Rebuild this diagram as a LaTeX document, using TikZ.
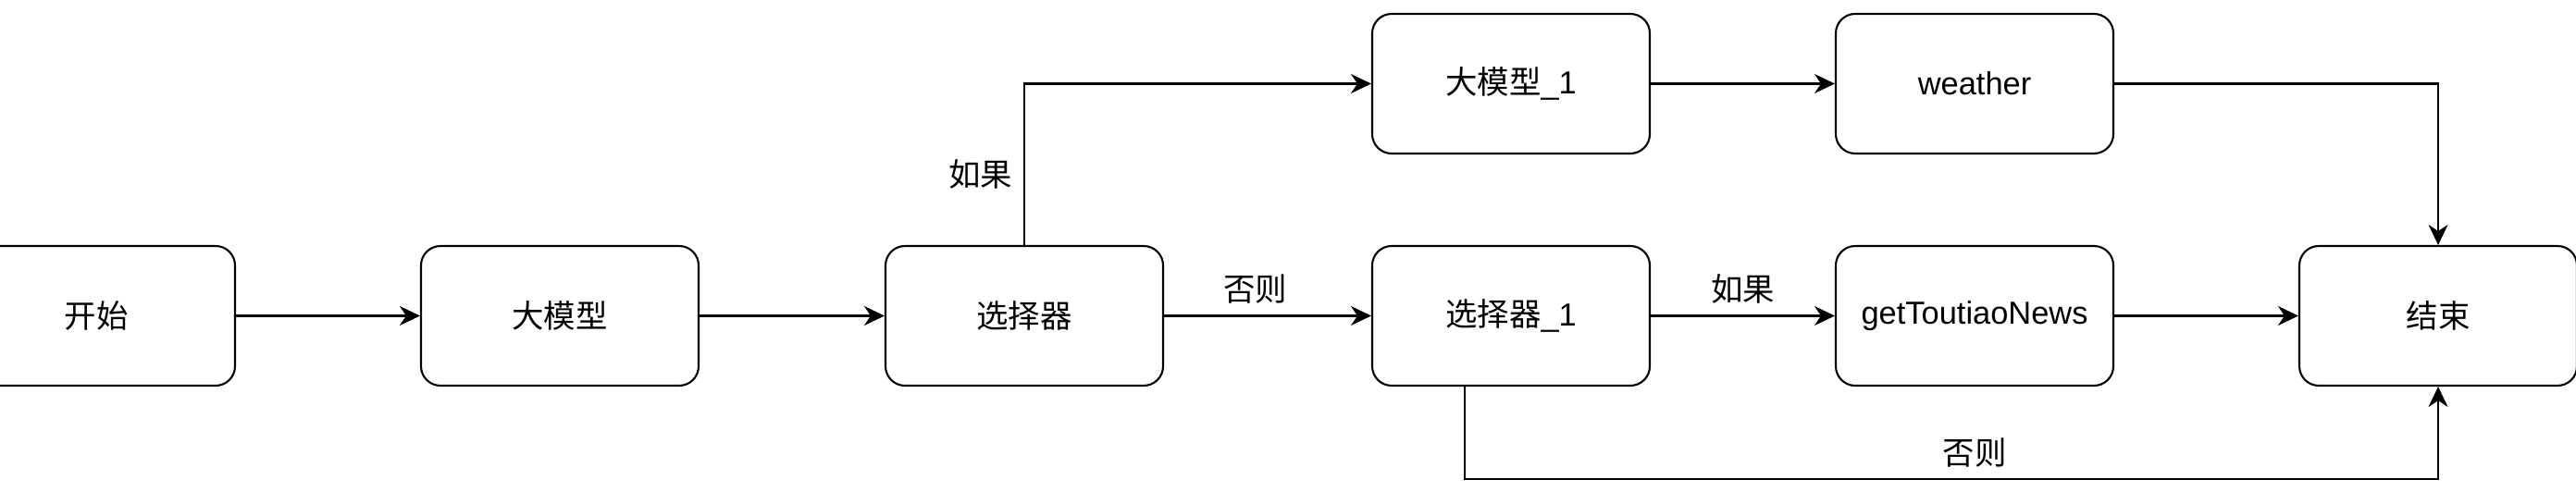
\documentclass[tikz,border=0pt]{standalone}
\usepackage{fontspec}
\setmainfont{Liberation Sans}
\newfontfamily\cjk{Noto Sans CJK SC}
\usetikzlibrary{arrows.meta}

\begin{document}
\begin{tikzpicture}[
    line width=0.6pt,
    font=\fontsize{9.8}{12}\selectfont,
    block/.style={draw, rounded corners=0.21cm, minimum width=3cm,
      minimum height=1.51cm, inner sep=0pt},
    flow/.style={-{Stealth[length=0.22cm, width=0.21cm, inset=0.07cm]}}
  ]
  \useasboundingbox (0,0) rectangle (27.84,5.31);

  % Boxes
  \node[block] (start)  at (1.04,1.895)  {\cjk 开始};
  \node[block] (llm)    at (6.05,1.895)  {\cjk 大模型};
  \node[block] (sel)    at (11.07,1.895) {\cjk 选择器};
  \node[block] (llmone) at (16.33,4.405) {{\cjk 大模型}\_1};
  \node[block] (selone) at (16.33,1.895) {{\cjk 选择器}\_1};
  \node[block] (weather) at (21.34,4.405) {weather};
  \node[block] (news)   at (21.34,1.895) {getToutiaoNews};
  \node[block] (stop)   at (26.35,1.895) {\cjk 结束};

  % Arrows
  \draw[flow] (start) -- (llm);
  \draw[flow] (llm) -- (sel);
  \draw[flow] (sel) -- (selone) node[pos=0.44, above] {\cjk 否则};
  \draw[flow] (sel.north) |- (llmone.west) node[pos=0.22, left] {\cjk 如果};
  \draw[flow] (llmone) -- (weather);
  \draw[flow] (weather.east) -| (stop.north);
  \draw[flow] (selone) -- (news) node[midway, above] {\cjk 如果};
  \draw[flow] (news) -- (stop);
  \draw[flow] ([xshift=-0.5cm]selone.south) -- ++(0,-1)
    -| (stop.south) node[pos=0.262, above] {\cjk 否则};
\end{tikzpicture}
\end{document}
